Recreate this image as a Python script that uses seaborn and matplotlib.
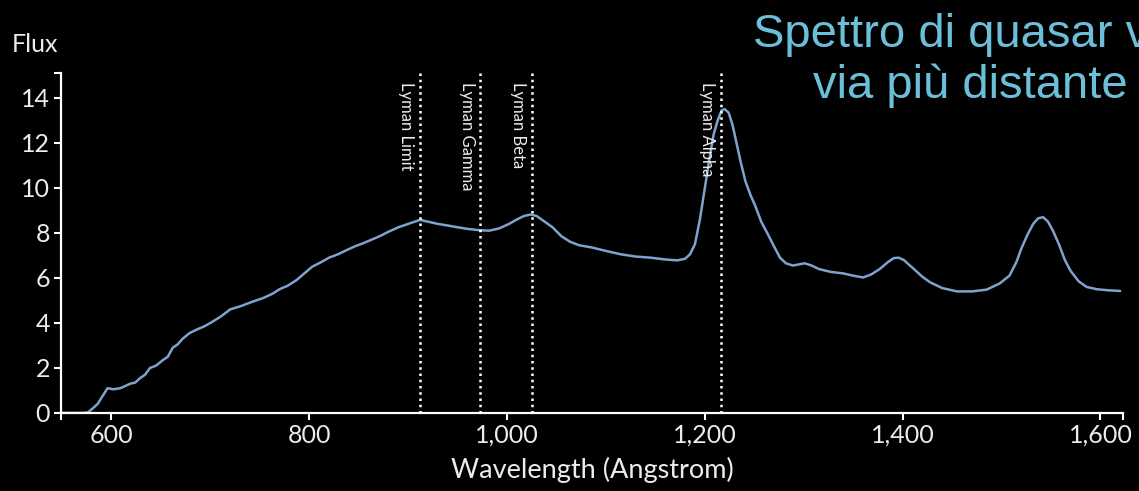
import matplotlib
matplotlib.use('Agg')
import matplotlib.pyplot as plt
import matplotlib.ticker as mticker
import seaborn as sns

# spectrum (wavelength in Angstrom, flux)
wavelength = [549, 560, 570, 576, 581, 586, 591, 596, 602, 609, 614, 619, 624, 629, 634, 639,
              645, 652, 657, 662, 667, 672, 679, 686, 694, 702, 711, 720, 731, 743, 753, 763,
              770, 778, 787, 795, 803, 812, 820, 829, 838, 846, 855, 863, 871, 880, 890, 900,
              907, 912, 920, 930, 940, 950, 960, 972, 982, 992, 1002, 1010, 1017, 1024, 1030,
              1038, 1046, 1055, 1064, 1073, 1086, 1100, 1115, 1130, 1145, 1160, 1172, 1180,
              1185, 1190, 1195, 1200, 1205, 1209, 1213, 1217, 1220, 1224, 1228, 1232, 1236,
              1241, 1246, 1251, 1257, 1263, 1270, 1276, 1282, 1289, 1295, 1301, 1308, 1315,
              1327, 1340, 1350, 1360, 1368, 1377, 1385, 1391, 1396, 1401, 1410, 1420, 1428,
              1440, 1455, 1470, 1485, 1498, 1508, 1515, 1520, 1526, 1532, 1537, 1542, 1547,
              1552, 1558, 1564, 1570, 1578, 1586, 1596, 1608, 1620]
flux = [0, 0, 0, 0.02, 0.2, 0.4, 0.75, 1.1, 1.05, 1.1, 1.2, 1.3, 1.35, 1.55, 1.7, 2.0,
        2.1, 2.35, 2.5, 2.9, 3.05, 3.3, 3.55, 3.7, 3.85, 4.05, 4.3, 4.6, 4.75, 4.95, 5.1, 5.3,
        5.5, 5.65, 5.9, 6.2, 6.5, 6.7, 6.9, 7.05, 7.24, 7.4, 7.55, 7.7, 7.85, 8.05, 8.25, 8.4,
        8.5, 8.58, 8.5, 8.4, 8.33, 8.25, 8.18, 8.12, 8.1, 8.2, 8.4, 8.6, 8.75, 8.82, 8.75,
        8.5, 8.25, 7.85, 7.6, 7.45, 7.35, 7.2, 7.05, 6.95, 6.9, 6.82, 6.78, 6.85,
        7.05, 7.5, 8.6, 10.0, 11.4, 12.4, 13.0, 13.45, 13.5, 13.35, 12.8, 12.0, 11.2,
        10.3, 9.7, 9.2, 8.5, 8.0, 7.4, 6.9, 6.65, 6.55, 6.6, 6.65, 6.55, 6.4,
        6.27, 6.2, 6.1, 6.02, 6.15, 6.4, 6.7, 6.88, 6.9, 6.8, 6.45, 6.05, 5.8,
        5.55, 5.4, 5.4, 5.48, 5.75, 6.1, 6.7, 7.3, 7.9, 8.4, 8.65, 8.7, 8.5,
        8.1, 7.5, 6.8, 6.3, 5.85, 5.6, 5.5, 5.45, 5.42]

line_names = ['Lyman Limit', 'Lyman Gamma', 'Lyman Beta', 'Lyman Alpha']
line_pos = [912, 973, 1025, 1216]

xticks = [600, 800, 1000, 1200, 1400, 1600]
yticks = [0, 2, 4, 6, 8, 10, 12, 14]

sns.set_style('dark', {'axes.facecolor': 'black', 'figure.facecolor': 'black'})
plt.rcParams['font.family'] = ['Lato', 'DejaVu Sans']

fg = '#ececec'
fig = plt.figure(figsize=(11.39, 4.91), dpi=100)
ax = fig.add_axes([0.0536, 0.159, 0.9325, 0.692])
ax.set_facecolor('black')

sns.lineplot(x=wavelength, y=flux, ax=ax, color='#7fa2cf', linewidth=1.8, estimator=None)

for name, pos in zip(line_names, line_pos):
    ax.axvline(pos, ymin=0, ymax=1, color='white', linewidth=1.8, linestyle=(0, (1, 1.5)))
    ax.text(pos - 14, 14.7, name, rotation=-90, ha='center', va='top',
            color=fg, fontsize=12)

ax.set_xlim(549, 1623)
ax.set_ylim(0, 15.1)
ax.set_xticks(xticks)
ax.set_yticks(yticks)
ax.set_xticks([549, 1623], minor=True)
ax.set_yticks([15.1], minor=True)
ax.xaxis.set_major_formatter(mticker.StrMethodFormatter('{x:,.0f}'))
ax.tick_params(which='both', direction='out', length=5, width=1.5, color='white',
               labelcolor=fg, labelsize=18, bottom=True, left=True, pad=3)
ax.grid(False)

for side in ['top', 'right']:
    ax.spines[side].set_visible(False)
for side in ['left', 'bottom']:
    ax.spines[side].set_visible(True)
    ax.spines[side].set_color('white')
    ax.spines[side].set_linewidth(1.6)

ax.set_xlabel('Wavelength (Angstrom)', color=fg, fontsize=19.5, labelpad=7)
ax.set_ylabel('')
fig.text(0.0105, 0.894, 'Flux', color=fg, fontsize=18, va='baseline', ha='left')

title_font = ['Liberation Sans', 'DejaVu Sans']
fig.text(753 / 1139, 1 - 47 / 491, 'Spettro di quasar v', color='#6cbfd8', fontsize=34,
         family=title_font, va='baseline', ha='left')
fig.text(813 / 1139, 1 - 98 / 491, 'via più distante', color='#6cbfd8', fontsize=34,
         family=title_font, va='baseline', ha='left')

fig.savefig('out.png', dpi=100, facecolor='black')
